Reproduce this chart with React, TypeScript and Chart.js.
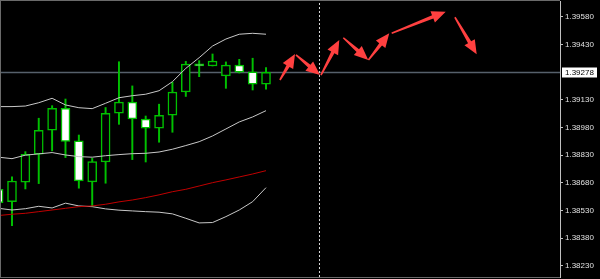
import React, { useEffect, useRef } from "react";
import { Chart, registerables } from "chart.js";

Chart.register(...registerables);

// ---- data ----
const candleIndex = [-1, 0, 1, 2, 3, 4, 5, 6, 7, 8, 9, 10, 11, 12, 13, 14, 15, 16, 17, 18, 19];
const openPrices = [1.38645, 1.38578, 1.38683, 1.38835, 1.38965, 1.39084, 1.38907, 1.38685, 1.38793, 1.39057, 1.39117, 1.39026, 1.38976, 1.39046, 1.39172, 1.39324, 1.39313, 1.39259, 1.39318, 1.39281, 1.39214];
const highPrices = [1.38655, 1.38712, 1.38849, 1.39030, 1.39098, 1.39134, 1.38939, 1.38813, 1.39088, 1.39336, 1.39205, 1.39042, 1.39106, 1.39225, 1.39338, 1.39342, 1.39378, 1.39335, 1.39349, 1.39355, 1.39304];
const lowPrices = [1.38560, 1.38448, 1.38647, 1.38676, 1.38853, 1.38817, 1.38651, 1.38551, 1.38678, 1.38997, 1.38806, 1.38793, 1.38900, 1.38954, 1.39148, 1.39255, 1.39313, 1.39192, 1.39275, 1.39183, 1.39187];
const closePrices = [1.38573, 1.38690, 1.38835, 1.38965, 1.39084, 1.38905, 1.38690, 1.38795, 1.39057, 1.39117, 1.39026, 1.38976, 1.39046, 1.39172, 1.39323, 1.39313, 1.39340, 1.39318, 1.39279, 1.39214, 1.39278];

const upperBand = [1.39093, 1.39093, 1.39096, 1.39114, 1.39138, 1.39102, 1.39087, 1.39082, 1.39111, 1.39141, 1.39152, 1.39160, 1.39179, 1.39228, 1.39300, 1.39358, 1.39421, 1.39459, 1.39485, 1.39490, 1.39485];
const middleBand = [1.38819, 1.38811, 1.38830, 1.38837, 1.38844, 1.38831, 1.38822, 1.38819, 1.38827, 1.38833, 1.38838, 1.38840, 1.38847, 1.38862, 1.38882, 1.38903, 1.38934, 1.38972, 1.39010, 1.39037, 1.39071];
const lowerBand = [1.38542, 1.38533, 1.38540, 1.38553, 1.38544, 1.38570, 1.38555, 1.38551, 1.38539, 1.38532, 1.38528, 1.38524, 1.38521, 1.38512, 1.38488, 1.38463, 1.38465, 1.38497, 1.38533, 1.38578, 1.38654];
const movingAverage = [1.38503, 1.38510, 1.38515, 1.38524, 1.38533, 1.38542, 1.38551, 1.38555, 1.38564, 1.38577, 1.38587, 1.38600, 1.38615, 1.38632, 1.38645, 1.38663, 1.38681, 1.38696, 1.38712, 1.38728, 1.38746];

const yTickValues = [1.39580, 1.39430, 1.39130, 1.38980, 1.38830, 1.38680, 1.38530, 1.38380, 1.38230];
const currentPrice = 1.39278;
const currentPriceLabel = "1.39278";
const separatorIndex = 23;

const arrowFromX = [20.04, 21.24, 23.11, 24.78, 26.66, 28.40, 33.13];
const arrowFromY = [1.39237, 1.39373, 1.39264, 1.39466, 1.39346, 1.39490, 1.39577];
const arrowToX = [21.17, 23.04, 24.48, 26.65, 28.22, 32.44, 34.76];
const arrowToY = [1.39378, 1.39264, 1.39454, 1.39346, 1.39490, 1.39607, 1.39376];

const xMin = -0.823;
const xMax = 40.99;
const yMin = 1.3817;
const yMax = 1.39665;

const GREEN = "#00c000";

function pts(values: number[]) {
  return candleIndex.map((x, i) => ({ x, y: values[i] }));
}

function drawArrow(ctx: CanvasRenderingContext2D, x1: number, y1: number, x2: number, y2: number) {
  const dx = x2 - x1;
  const dy = y2 - y1;
  const len = Math.hypot(dx, dy);
  if (len < 1) return;
  const ux = dx / len;
  const uy = dy / len;
  const nx = -uy;
  const ny = ux;
  const headLen = Math.min(14, len * 0.55);
  const headW = 6;
  const bx = x2 - ux * headLen;
  const by = y2 - uy * headLen;
  ctx.beginPath();
  ctx.moveTo(x1 + nx * 0.8, y1 + ny * 0.8);
  ctx.lineTo(bx + nx * 1.8, by + ny * 1.8);
  ctx.lineTo(bx + nx * headW, by + ny * headW);
  ctx.lineTo(x2, y2);
  ctx.lineTo(bx - nx * headW, by - ny * headW);
  ctx.lineTo(bx - nx * 1.8, by - ny * 1.8);
  ctx.lineTo(x1 - nx * 0.8, y1 - ny * 0.8);
  ctx.closePath();
  ctx.fill();
}

const backgroundPlugin = {
  id: "bg",
  beforeDraw(chart: any) {
    const ctx = chart.ctx;
    ctx.save();
    ctx.fillStyle = "#000";
    ctx.fillRect(0, 0, chart.width, chart.height);
    ctx.restore();
  },
};

const overlayPlugin = {
  id: "overlay",
  afterDatasetsDraw(chart: any) {
    const ctx = chart.ctx;
    const xs = chart.scales.x;
    const ys = chart.scales.y;
    const area = chart.chartArea;
    ctx.save();
    ctx.beginPath();
    ctx.rect(area.left, area.top, area.right - area.left, area.bottom - area.top);
    ctx.clip();
    ctx.fillStyle = "#ff4040";
    for (let i = 0; i < arrowFromX.length; i++) {
      drawArrow(
        ctx,
        xs.getPixelForValue(arrowFromX[i]),
        ys.getPixelForValue(arrowFromY[i]),
        xs.getPixelForValue(arrowToX[i]),
        ys.getPixelForValue(arrowToY[i])
      );
    }
    ctx.restore();
  },
  afterDraw(chart: any) {
    const ctx = chart.ctx;
    const ys = chart.scales.y;
    const area = chart.chartArea;
    ctx.save();
    // frame
    ctx.strokeStyle = "#6a6a6a";
    ctx.lineWidth = 1;
    ctx.beginPath();
    ctx.moveTo(0, 0.5);
    ctx.lineTo(area.right, 0.5);
    ctx.moveTo(0.5, 0);
    ctx.lineTo(0.5, area.bottom + 1);
    ctx.moveTo(0, area.bottom + 0.5);
    ctx.lineTo(area.right, area.bottom + 0.5);
    ctx.stroke();
    // current price tag
    const py = ys.getPixelForValue(currentPrice);
    ctx.fillStyle = "#ffffff";
    ctx.fillRect(area.right + 2, Math.round(py) - 4.5, 35, 10);
    ctx.fillStyle = "#000000";
    ctx.font = "8px 'Liberation Sans'";
    ctx.textBaseline = "middle";
    ctx.textAlign = "left";
    ctx.fillText(currentPriceLabel, area.right + 5, Math.round(py) + 0.5);
    ctx.restore();
  },
};

export default function App() {
  const ref = useRef<HTMLCanvasElement>(null);

  useEffect(() => {
    document.body.style.margin = "0";
    document.body.style.background = "#000";
    const canvas = ref.current!;
    const chart = new Chart(canvas, {
      type: "bar",
      data: {
        datasets: [
          {
            type: "line",
            label: "upper",
            data: pts(upperBand),
            borderColor: "#c8c8c8",
            borderWidth: 1,
            pointRadius: 0,
            order: 2,
          } as any,
          {
            type: "line",
            label: "middle",
            data: pts(middleBand),
            borderColor: "#c8c8c8",
            borderWidth: 1,
            pointRadius: 0,
            order: 2,
          } as any,
          {
            type: "line",
            label: "lower",
            data: pts(lowerBand),
            borderColor: "#c8c8c8",
            borderWidth: 1,
            pointRadius: 0,
            order: 2,
          } as any,
          {
            type: "line",
            label: "ma",
            data: pts(movingAverage),
            borderColor: "#c00000",
            borderWidth: 1,
            pointRadius: 0,
            order: 1,
          } as any,
          {
            type: "bar",
            label: "bodies",
            data: candleIndex.map((x, i) => ({ x, y: [openPrices[i], closePrices[i]] })),
            backgroundColor: candleIndex.map((_, i) => (closePrices[i] >= openPrices[i] ? "#000000" : "#ffffff")),
            borderColor: GREEN,
            borderWidth: 1.5,
            borderSkipped: false,
            barThickness: 9,
            grouped: false,
            order: 4,
          } as any,
          {
            type: "bar",
            label: "wicks",
            data: candleIndex.map((x, i) => ({ x, y: [lowPrices[i], highPrices[i]] })),
            backgroundColor: GREEN,
            borderWidth: 0,
            barThickness: 1.3,
            grouped: false,
            order: 5,
          } as any,
          {
            type: "line",
            label: "price",
            data: [
              { x: xMin - 1, y: currentPrice },
              { x: xMax + 1, y: currentPrice },
            ],
            borderColor: "#56606b",
            borderWidth: 1.6,
            pointRadius: 0,
            order: 10,
          } as any,
          {
            type: "line",
            label: "separator",
            data: [
              { x: separatorIndex, y: yMin },
              { x: separatorIndex, y: yMax },
            ],
            borderColor: "#d8d8d8",
            borderWidth: 1,
            borderDash: [2, 2],
            pointRadius: 0,
            order: 9,
          } as any,
        ],
      },
      options: {
        responsive: false,
        animation: false,
        events: [],
        layout: { padding: { left: 1, top: 1, right: 0, bottom: 2 } },
        plugins: { legend: { display: false }, tooltip: { enabled: false } },
        scales: {
          x: {
            type: "linear",
            display: false,
            min: xMin,
            max: xMax,
            offset: false,
          },
          y: {
            type: "linear",
            position: "right",
            min: yMin,
            max: yMax,
            afterBuildTicks: (scale: any) => {
              scale.ticks = yTickValues.map((v) => ({ value: v }));
            },
            afterFit: (scale: any) => {
              scale.width = 40;
              scale.paddingTop = 0;
              scale.paddingBottom = 0;
            },
            grid: {
              drawOnChartArea: false,
              drawTicks: true,
              tickLength: 3,
              color: "#c0c0c0",
            },
            border: { display: true, color: "#c0c0c0", width: 1 },
            ticks: {
              color: "#e0e0e0",
              padding: 2,
              autoSkip: false,
              font: { family: "'Liberation Sans'", size: 8 },
              callback: (v: any) => Number(v).toFixed(5),
            },
          },
        },
      } as any,
      plugins: [backgroundPlugin, overlayPlugin],
    });
    return () => chart.destroy();
  }, []);

  return (
    <div style={{ width: 600, height: 279 }}>
      <canvas ref={ref} width={600} height={279} style={{ display: "block" }} />
    </div>
  );
}
